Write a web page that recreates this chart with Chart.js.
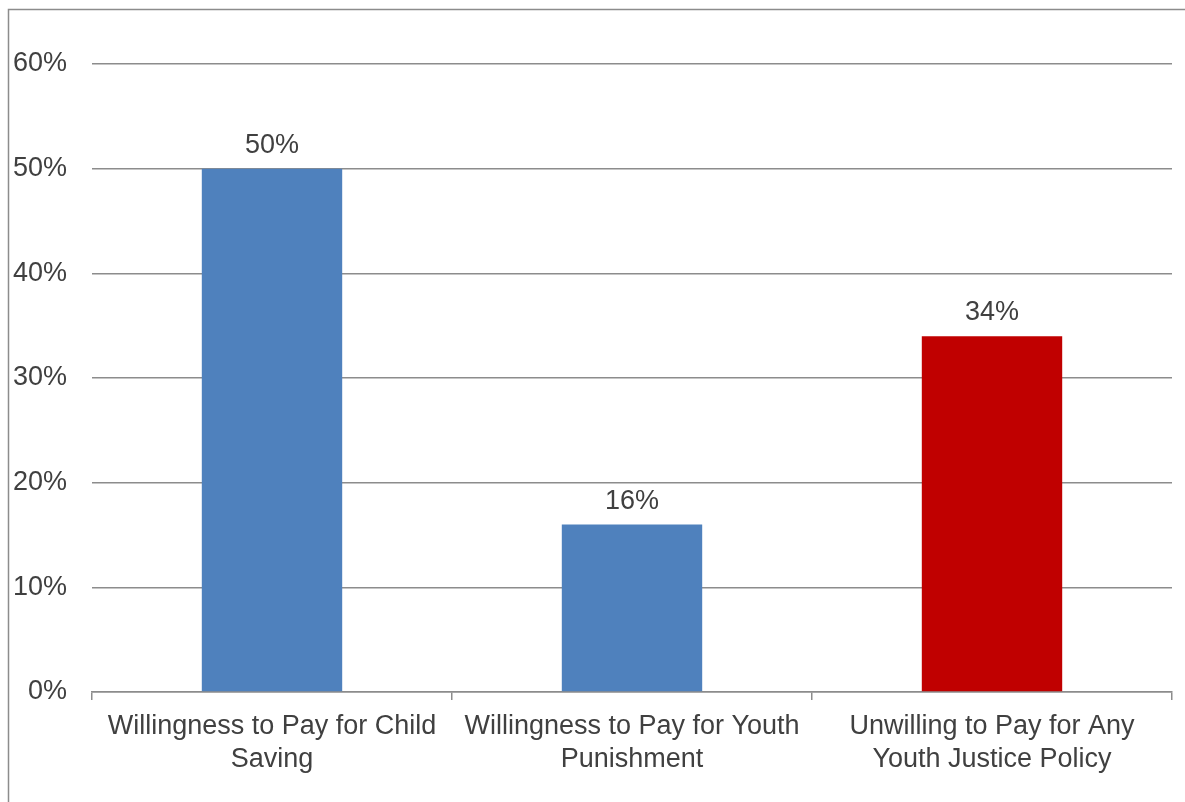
<!DOCTYPE html>
<html>
<head>
<meta charset="utf-8">
<script src="https://cdn.jsdelivr.net/npm/chart.js@4"></script>
<style>
  html, body { margin: 0; padding: 0; background: #ffffff; }
  #wrap { width: 1185px; height: 802px; }
</style>
</head>
<body>
<div id="wrap"><canvas id="chart" width="1185" height="802"></canvas></div>
<script>
// Survey outcome categories (two-line axis labels)
const categories = [
  ["Willingness to Pay for Child", "Saving"],
  ["Willingness to Pay for Youth", "Punishment"],
  ["Unwilling to Pay for Any", "Youth Justice Policy"]
];
// Share of respondents, in percent
const shares = [50, 16, 34];
const barColors = ["#4F81BD", "#4F81BD", "#C00000"];
const yTicks = [0, 10, 20, 30, 40, 50, 60];

const FONT = "'Liberation Sans', Arial, sans-serif";
const TEXT = "#404040";

// Thin frame along the top and left edges of the figure
const framePlugin = {
  id: "frame",
  beforeDraw(chart) {
    const ctx = chart.ctx;
    ctx.save();
    ctx.fillStyle = "#ffffff";
    ctx.fillRect(0, 0, chart.width, chart.height);
    ctx.strokeStyle = "#8c8c8c";
    ctx.lineWidth = 1.5;
    ctx.beginPath();
    ctx.moveTo(8.5, chart.height + 5);
    ctx.lineTo(8.5, 9.5);
    ctx.lineTo(chart.width + 5, 9.5);
    ctx.stroke();
    ctx.restore();
  }
};

// Percentage labels above each bar
const valueLabels = {
  id: "valueLabels",
  afterDatasetsDraw(chart) {
    const ctx = chart.ctx;
    const meta = chart.getDatasetMeta(0);
    ctx.save();
    ctx.font = "27px " + FONT;
    ctx.fillStyle = TEXT;
    ctx.textAlign = "center";
    ctx.textBaseline = "alphabetic";
    meta.data.forEach((bar, i) => {
      ctx.fillText(shares[i] + "%", bar.x, bar.y - 16);
    });
    ctx.restore();
  }
};

new Chart(document.getElementById("chart"), {
  type: "bar",
  data: {
    labels: categories,
    datasets: [{
      data: shares,
      backgroundColor: barColors,
      borderWidth: 0,
      categoryPercentage: 1.0,
      barPercentage: 0.39
    }]
  },
  options: {
    responsive: false,
    animation: false,
    devicePixelRatio: 1,
    layout: { padding: { top: 64, right: 13, bottom: 0, left: 0 } },
    plugins: {
      legend: { display: false },
      tooltip: { enabled: false }
    },
    scales: {
      x: {
        offset: true,
        grid: {
          display: true,
          offset: true,
          drawOnChartArea: false,
          drawTicks: true,
          tickLength: 8,
          color: "#8c8c8c",
          lineWidth: 1.5
        },
        border: { display: true, color: "#8c8c8c", width: 1.5 },
        ticks: {
          font: { family: FONT, size: 27, lineHeight: 1.22 },
          color: TEXT,
          padding: 10,
          maxRotation: 0,
          autoSkip: false
        },
        afterFit(scale) { scale.height = 110; }
      },
      y: {
        min: 0,
        max: 60,
        afterBuildTicks(scale) {
          scale.ticks = yTicks.map(v => ({ value: v }));
        },
        grid: {
          color: "#8c8c8c",
          lineWidth: 1.5,
          drawTicks: false
        },
        border: { display: false },
        ticks: {
          font: { family: FONT, size: 27 },
          color: TEXT,
          padding: 25,
          callback: v => v + "%"
        },
        afterFit(scale) { scale.width = 92; }
      }
    }
  },
  plugins: [framePlugin, valueLabels]
});
</script>
</body>
</html>
